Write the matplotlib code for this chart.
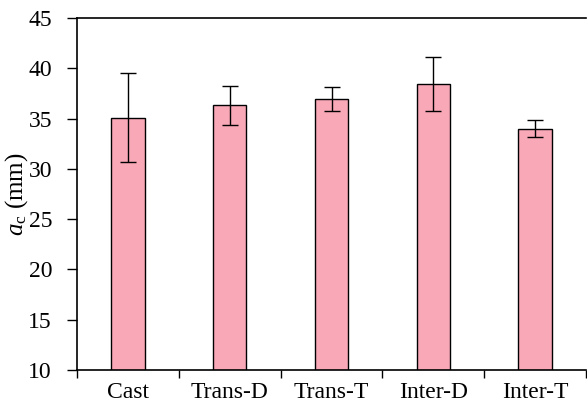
import matplotlib
matplotlib.use("Agg")
import matplotlib.pyplot as plt
import numpy as np

categories = ["Cast", "Trans-D", "Trans-T", "Inter-D", "Inter-T"]
values = [35.1, 36.3, 36.95, 38.45, 34.0]
errors = [4.45, 1.93, 1.15, 2.68, 0.81]

plt.rcParams['font.family'] = ['Liberation Serif', 'DejaVu Serif']
plt.rcParams['mathtext.fontset'] = 'custom'
plt.rcParams['mathtext.rm'] = 'Liberation Serif'
plt.rcParams['mathtext.it'] = 'Liberation Serif:italic'

fig = plt.figure(figsize=(5.87, 4.12), dpi=100)
ax = fig.add_axes([77/587, 42/412, 509/587, 352/412])

x = np.arange(len(categories))
ax.bar(x, values, width=0.33, color='#F9A8B8', edgecolor='black', linewidth=1.0,
       yerr=errors, error_kw=dict(ecolor='black', elinewidth=1.0, capsize=6, capthick=1.0),
       zorder=2)

ax.set_xlim(-0.5, len(categories) - 0.5)
ax.set_ylim(10, 45)
ax.set_yticks(np.arange(10, 46, 5))
ax.set_xticks(x)
ax.set_xticklabels(categories, fontsize=17)
ax.set_xticks(np.arange(-0.5, len(categories) - 0.4, 1.0), minor=True)
ax.tick_params(axis='x', which='major', length=0, pad=9)
ax.tick_params(axis='x', which='minor', length=6, width=1.0, direction='out')
ax.tick_params(axis='y', which='major', length=7, width=1.0, direction='out', labelsize=17, pad=11)

ax.spines['right'].set_visible(False)
ax.spines['top'].set_visible(True)
for s in ['left', 'bottom', 'top']:
    ax.spines[s].set_linewidth(1.2)

ax.set_ylabel(r'$a_\mathrm{c}$ (mm)', fontsize=18, labelpad=-1)

fig.savefig("out.png", dpi=100)
